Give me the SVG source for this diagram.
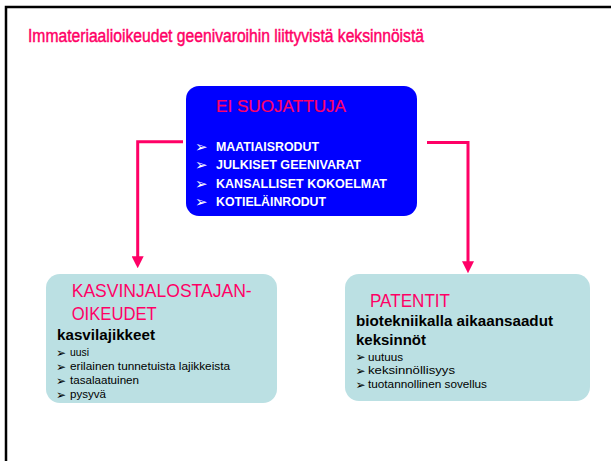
<svg xmlns="http://www.w3.org/2000/svg" width="611" height="461" viewBox="0 0 611 461">
<style>
.pink{fill:#FF0066;font-family:"Liberation Sans",Arial,sans-serif}
.wb{fill:#FFFFFF;font-family:"Liberation Sans",Arial,sans-serif;font-weight:bold;font-size:13px}
.bk{fill:#000000;font-family:"Liberation Sans",Arial,sans-serif}
.hd{font-weight:bold;font-size:15px}
.sm{font-size:11.8px}
.arw{font-family:"DejaVu Sans",sans-serif}
.conn{fill:none;stroke:#FF0066;stroke-width:3}
</style>
<defs>
<marker id="ah" markerUnits="userSpaceOnUse" viewBox="0 0 12 12" markerWidth="12" markerHeight="12" refX="6" refY="6" orient="auto">
<path d="M0,0 L12,6 L0,12 z" fill="#FF0066"/>
</marker>
</defs>
<rect width="611" height="461" fill="#FFFFFF"/>
<rect x="6" y="7" width="640" height="500" fill="none" stroke="#000000" stroke-width="2.5"/>
<text id="title" class="pink" x="28" y="42" font-size="18" stroke="#FF0066" stroke-width="0.45" textLength="396" lengthAdjust="spacingAndGlyphs">Immateriaalioikeudet geenivaroihin liittyvistä keksinnöistä</text>

<g id="connectors">
<path class="conn" d="M183,141.7 H137.7 V262.3" marker-end="url(#ah)"/>
<path class="conn" d="M427,142.5 H468 V267.3" marker-end="url(#ah)"/>
</g>

<g id="ei-suojattuja">
<rect x="186" y="86" width="231" height="130" rx="13" fill="#0000FF"/>
<text class="pink" x="216" y="112" font-size="16.5" stroke="#FF0066" stroke-width="0.2" textLength="130" lengthAdjust="spacingAndGlyphs">EI SUOJATTUJA</text>
<g class="arw" fill="#FFFFFF" font-size="15">
<text x="195" y="152">➢</text>
<text x="195" y="170.3">➢</text>
<text x="195" y="188.7">➢</text>
<text x="195" y="207">➢</text>
</g>
<text class="wb" x="216" y="151" textLength="103" lengthAdjust="spacingAndGlyphs">MAATIAISRODUT</text>
<text class="wb" x="216" y="169.3" textLength="145" lengthAdjust="spacingAndGlyphs">JULKISET GEENIVARAT</text>
<text class="wb" x="216" y="187.7" textLength="171" lengthAdjust="spacingAndGlyphs">KANSALLISET KOKOELMAT</text>
<text class="wb" x="216" y="206" textLength="110" lengthAdjust="spacingAndGlyphs">KOTIELÄINRODUT</text>
</g>

<g id="kasvinjalostajanoikeudet">
<rect x="46" y="274" width="231" height="129" rx="14" fill="#BBE0E3"/>
<text class="pink" x="71.7" y="296.7" font-size="18" textLength="180" lengthAdjust="spacingAndGlyphs">KASVINJALOSTAJAN-</text>
<text class="pink" x="71.7" y="320" font-size="18" textLength="85" lengthAdjust="spacingAndGlyphs">OIKEUDET</text>
<text class="bk hd" x="57" y="340" textLength="98" lengthAdjust="spacingAndGlyphs">kasvilajikkeet</text>
<g class="arw" fill="#000000" font-size="12">
<text x="56" y="356.5">➢</text>
<text x="56" y="370.5">➢</text>
<text x="56" y="384.5">➢</text>
<text x="56" y="398.5">➢</text>
</g>
<text class="bk sm" x="70" y="356" textLength="19" lengthAdjust="spacingAndGlyphs">uusi</text>
<text class="bk sm" x="70" y="370" textLength="160" lengthAdjust="spacingAndGlyphs">erilainen tunnetuista lajikkeista</text>
<text class="bk sm" x="70" y="384" textLength="69" lengthAdjust="spacingAndGlyphs">tasalaatuinen</text>
<text class="bk sm" x="70" y="398" textLength="36" lengthAdjust="spacingAndGlyphs">pysyvä</text>
</g>

<g id="patentit">
<rect x="345" y="274" width="245" height="127" rx="14" fill="#BBE0E3"/>
<text class="pink" x="370" y="306.7" font-size="18" textLength="80" lengthAdjust="spacingAndGlyphs">PATENTIT</text>
<text class="bk hd" x="356" y="326" textLength="197" lengthAdjust="spacingAndGlyphs">biotekniikalla aikaansaadut</text>
<text class="bk hd" x="356" y="345" textLength="70" lengthAdjust="spacingAndGlyphs">keksinnöt</text>
<g class="arw" fill="#000000" font-size="12">
<text x="355.5" y="361.2">➢</text>
<text x="355.5" y="374.8">➢</text>
<text x="355.5" y="388.5">➢</text>
</g>
<text class="bk sm" x="368" y="360.7" textLength="35" lengthAdjust="spacingAndGlyphs">uutuus</text>
<text class="bk sm" x="368" y="374.3" textLength="87" lengthAdjust="spacingAndGlyphs">keksinnöllisyys</text>
<text class="bk sm" x="368" y="388" textLength="119" lengthAdjust="spacingAndGlyphs">tuotannollinen sovellus</text>
</g>
</svg>
